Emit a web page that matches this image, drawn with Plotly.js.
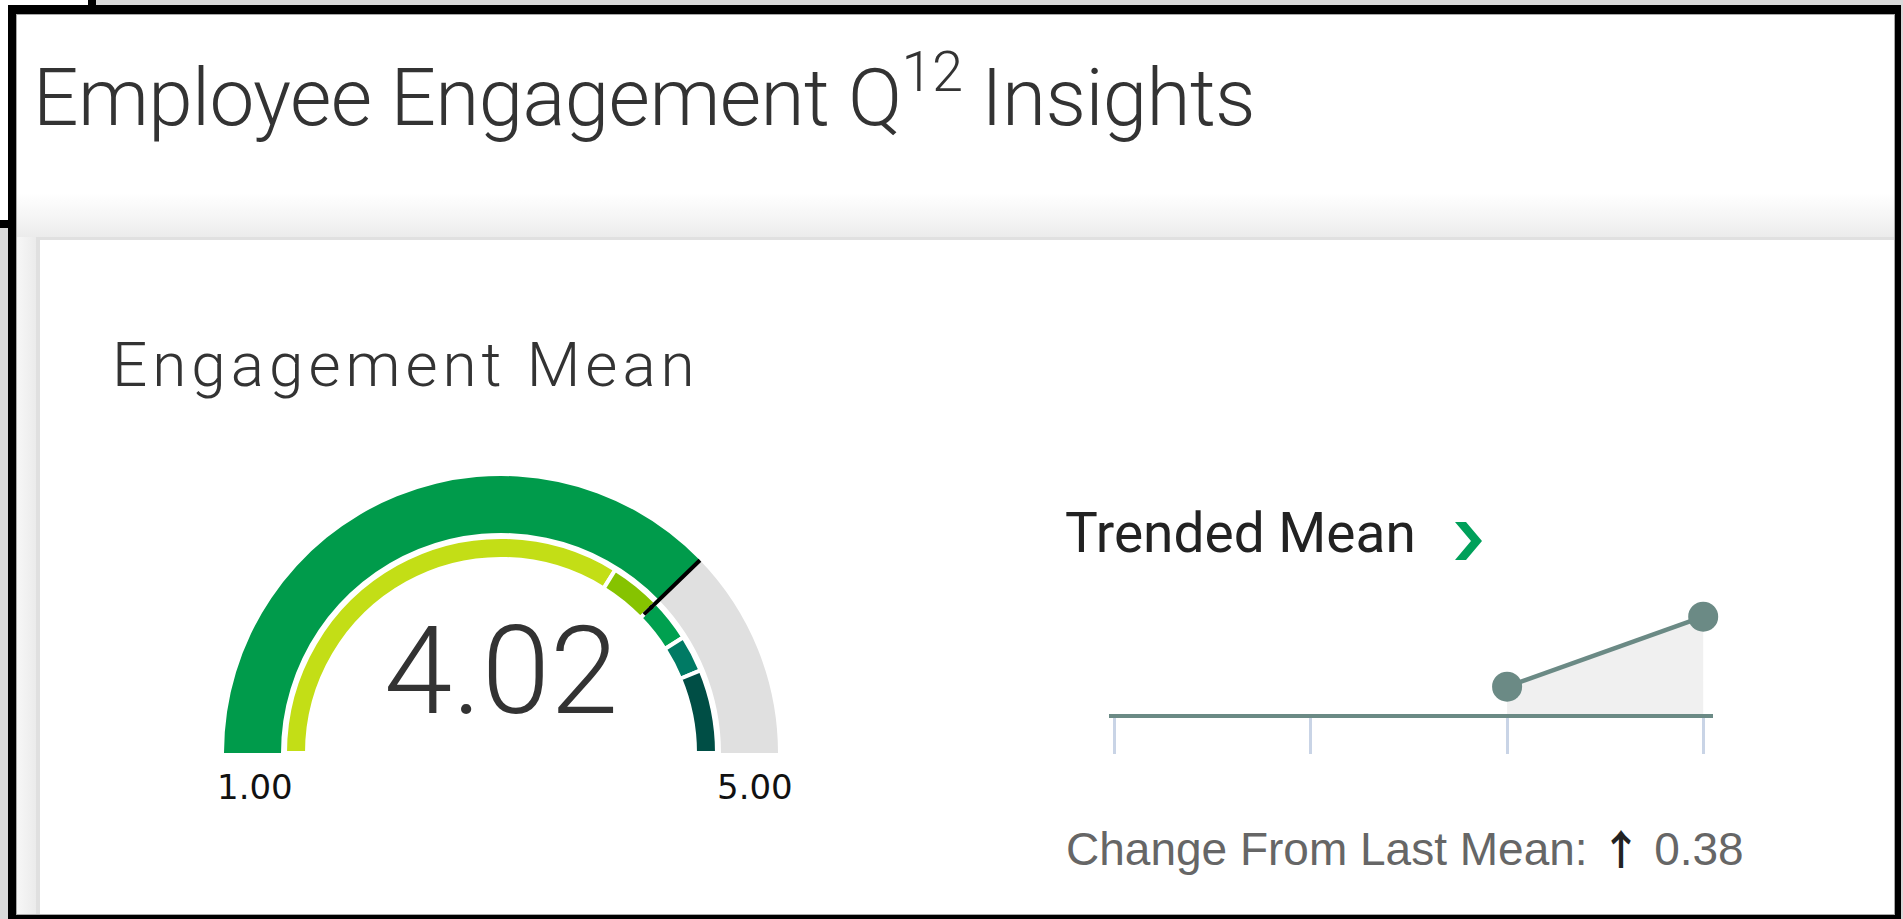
<!DOCTYPE html>
<html>
<head>
<meta charset="utf-8">
<script src="https://cdn.plot.ly/plotly-3.0.1.min.js"></script>
<style>
html,body{margin:0;padding:0;width:1903px;height:919px;overflow:hidden;background:#ffffff;}
.abs{position:absolute;box-sizing:border-box;}
#chart{position:absolute;left:0;top:0;width:1903px;height:919px;}
</style>
</head>
<body>
<!-- page frame (decoration) -->
<div class="abs" style="left:96px;top:0;width:1807px;height:5px;background:#d9d9d9"></div>
<div class="abs" style="left:88px;top:0;width:8px;height:5px;background:#000"></div>
<div class="abs" style="left:0;top:220px;width:8px;height:8px;background:#000"></div>
<div class="abs" style="left:0;top:228px;width:8px;height:691px;background:#d9d9d9"></div>
<div class="abs" style="left:1901px;top:0;width:2px;height:919px;background:#d9d9d9"></div>
<div class="abs" style="left:8px;top:5px;width:1893px;height:914px;background:#000"></div>
<div class="abs" style="left:16px;top:14px;width:1879px;height:901px;border:1px solid #a8a8a8;background:linear-gradient(to bottom,#ffffff 0px,#ffffff 178px,#f6f6f6 200px,#ebebeb 223px,#ebebeb 901px)"></div>
<div class="abs" style="left:17px;top:237px;width:19px;height:677px;background:linear-gradient(to right,#f7f7f7,#ebebeb)"></div>
<div class="abs" style="left:36px;top:237px;width:1858px;height:677px;background:#fff;border-top:3px solid #e0e0e0;border-left:4px solid #e0e0e0"></div>
<div id="chart"></div>
<script>
// ---------------- data ----------------
const gaugeRange = [1, 5];
const engagementMean = [4.02];
const benchmarkBreaks = [1, 3.71, 4.02, 4.28, 4.50, 5];
const trendPeriods = [1, 2, 3, 4];
const trendMeans = [null, null, 3.64, 4.02];

// ---------------- styles ----------------
const bandColors = ['#c3de16', '#86c300', '#00a04f', '#007a64', '#004e45'];
const W = 1903, H = 919;
const fx = x => x / W;
const fy = y => 1 - y / H;
const cx = 501, cy = 753;
function gaugeDomain(R) {
  return {x: [fx(cx - R), fx(cx + R)], y: [fy(cy), fy(cy - R)]};
}
const noAxis = {range: gaugeRange, visible: false};
const clear = 'rgba(0,0,0,0)';
const meanVal = engagementMean[0];

const bandSteps = bandColors.map((c, i) => ({
  range: [benchmarkBreaks[i], benchmarkBreaks[i + 1]],
  color: c, thickness: 0.3756, line: {color: '#ffffff', width: 4}
}));

const outerGauge = {
  type: 'indicator', mode: 'gauge', value: meanVal, domain: gaugeDomain(284),
  gauge: {
    shape: 'angular', axis: noAxis, bgcolor: clear, borderwidth: 0,
    bar: {color: '#009b4b', thickness: 0.803, line: {width: 0}},
    steps: [{range: [meanVal, gaugeRange[1]], color: '#e0e0e0', thickness: 0.803, line: {width: 0}}]
  }
};
const innerGauge = {
  type: 'indicator', mode: 'gauge', value: meanVal, domain: gaugeDomain(234.29),
  gauge: {
    shape: 'angular', axis: noAxis, bgcolor: clear, borderwidth: 0,
    bar: {color: clear, thickness: 0, line: {width: 0}},
    steps: bandSteps,
    threshold: {value: meanVal, thickness: 0.2, line: {color: '#000000', width: 4}}
  }
};
const needleGauge = {
  type: 'indicator', mode: 'gauge', value: meanVal, domain: gaugeDomain(277),
  gauge: {
    shape: 'angular', axis: noAxis, bgcolor: clear, borderwidth: 0,
    bar: {color: clear, thickness: 0, line: {width: 0}},
    threshold: {value: meanVal, thickness: 1, line: {color: '#000000', width: 4}}
  }
};

const trend = {
  type: 'scatter', x: trendPeriods, y: trendMeans, xaxis: 'x', yaxis: 'y',
  mode: 'lines+markers', connectgaps: false,
  line: {color: '#6b8a85', width: 4.5},
  marker: {size: 30, color: '#6b8a85'},
  fill: 'tozeroy', fillcolor: '#f0f0f0',
  cliponaxis: false, hoverinfo: 'skip'
};

const n = trendMeans.length;
const change = trendMeans[n - 1] - trendMeans[n - 2];

const roboto = 'Roboto, "Noto Sans", sans-serif';
const annotations = [
  {text: '<span style="letter-spacing:-0.6px">Employee Engagement Q<sup>12</sup> Insights</span>',
   x: fx(31), y: fy(37), xanchor: 'left', yanchor: 'top',
   font: {family: roboto, size: 80, weight: 300, color: '#333333'}},
  {text: '<span style="letter-spacing:5px">Engagement Mean</span>', x: fx(110), y: fy(326), xanchor: 'left', yanchor: 'top',
   font: {family: roboto, size: 62, weight: 300, color: '#333333'}},
  {text: meanVal.toFixed(2), x: fx(500.5), y: fy(597.2), xanchor: 'center', yanchor: 'top',
   font: {family: roboto, size: 123, weight: 300, color: '#333333'}},
  {text: gaugeRange[0].toFixed(2), x: fx(255.4), y: fy(765), xanchor: 'center', yanchor: 'top',
   font: {family: '"DejaVu Sans", sans-serif', size: 34, color: '#111111'}},
  {text: gaugeRange[1].toFixed(2), x: fx(754.5), y: fy(765), xanchor: 'center', yanchor: 'top',
   font: {family: '"DejaVu Sans", sans-serif', size: 34, color: '#111111'}},
  {text: 'Trended Mean', x: fx(1063), y: fy(498.6), xanchor: 'left', yanchor: 'top',
   font: {family: roboto, size: 55, color: '#222222'}},
  {text: 'Change From Last Mean: <span style="font-family:\'Noto Sans CJK SC\';font-size:41px;font-weight:700;fill:#222222">' +
         (change >= 0 ? '\u2191' : '\u2193') + '</span> ' + Math.abs(change).toFixed(2),
   x: fx(1064), y: fy(815), xanchor: 'left', yanchor: 'top',
   font: {family: '"Liberation Sans", Arial, sans-serif', size: 46, color: '#666666'}}
].map(a => Object.assign({xref: 'paper', yref: 'paper', showarrow: false}, a));

// chevron icon next to "Trended Mean"
const chev = [[1455,522],[1466,522],[1482,541],[1466,560],[1455,560],[1471,541]];
const chevPath = 'M ' + chev.map(p => fx(p[0]) + ',' + fy(p[1])).join(' L ') + ' Z';

const layout = {
  width: W, height: H, autosize: false,
  margin: {l: 0, r: 0, t: 0, b: 0, pad: 0},
  paper_bgcolor: clear, plot_bgcolor: clear,
  showlegend: false,
  font: {family: roboto},
  xaxis: {domain: [fx(1109), fx(1713)], range: [0.97, 4.05], showgrid: false, zeroline: false,
          showline: true, linewidth: 4, linecolor: '#6b8a85',
          ticks: 'outside', ticklen: 36, tickwidth: 3, tickcolor: '#c9d4e6',
          tickvals: trendPeriods, showticklabels: false, fixedrange: true},
  yaxis: {domain: [fy(714), fy(590)], range: [3.492, 4.165], visible: false, fixedrange: true},
  shapes: [{type: 'path', xref: 'paper', yref: 'paper', path: chevPath,
            fillcolor: '#00a05a', line: {width: 0}}],
  annotations: annotations
};

Plotly.newPlot('chart', [outerGauge, innerGauge, needleGauge, trend], layout,
  {displayModeBar: false, staticPlot: true});
</script>
</body>
</html>
